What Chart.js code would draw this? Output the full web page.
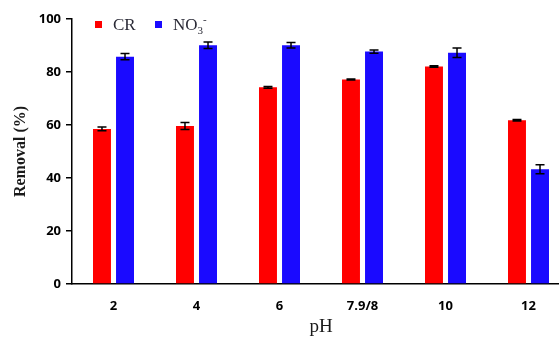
<!DOCTYPE html>
<html>
<head>
<meta charset="utf-8">
<script src="https://cdn.jsdelivr.net/npm/chart.js@4/dist/chart.umd.min.js"></script>
<style>
  html, body { margin: 0; padding: 0; background: #fff; overflow: hidden; }
  #wrap { width: 572px; height: 338px; }
</style>
</head>
<body>
<div id="wrap"><canvas id="c" width="572" height="338"></canvas></div>
<script>
// pH values tested
const phLabels = ['2', '4', '6', '7.9/8', '10', '12'];
// Removal (%) of Congo red and nitrate at each pH
const crRemoval  = [58.5, 59.6, 74.2, 77.2, 82.1, 61.8];
const no3Removal = [85.8, 90.1, 90.1, 87.7, 87.3, 43.3];
// Standard deviations
const crError  = [0.7, 1.3, 0.3, 0.2, 0.3, 0.3];
const no3Error = [1.2, 1.2, 1.0, 0.6, 1.8, 1.7];
// Y axis ticks
const yTicks = [0, 20, 40, 60, 80, 100];

const errorSets = [crError, no3Error];

// Draws +/- error bars on top of each bar
const errorBarPlugin = {
  id: 'errorBars',
  afterDatasetsDraw(chart) {
    const ctx = chart.ctx;
    const y = chart.scales.y;
    ctx.save();
    ctx.strokeStyle = '#000';
    ctx.lineWidth = 1.5;
    chart.data.datasets.forEach((ds, d) => {
      const meta = chart.getDatasetMeta(d);
      meta.data.forEach((bar, i) => {
        const v = ds.data[i], e = errorSets[d][i];
        const yt = y.getPixelForValue(v + e);
        const yb = y.getPixelForValue(v - e);
        const x = bar.x, cap = 4.5;
        ctx.beginPath();
        ctx.moveTo(x, yt); ctx.lineTo(x, yb);
        ctx.moveTo(x - cap, yt); ctx.lineTo(x + cap, yt);
        ctx.moveTo(x - cap, yb); ctx.lineTo(x + cap, yb);
        ctx.stroke();
      });
    });
    ctx.restore();
  }
};

// Legend with chemical-formula labels (subscript / superscript)
const formulaLegend = {
  id: 'formulaLegend',
  afterDraw(chart) {
    const ctx = chart.ctx;
    ctx.save();
    ctx.textBaseline = 'alphabetic';
    const items = [
      { color: chart.data.datasets[0].backgroundColor, x: 95, parts: [['CR', 0, 17]] },
      { color: chart.data.datasets[1].backgroundColor, x: 155, parts: [['NO', 0, 17], ['3', 4, 11], ['-', -7, 11]] }
    ];
    const baseY = 30;
    items.forEach(it => {
      ctx.fillStyle = it.color;
      ctx.fillRect(it.x, 21, 7, 7);
      let tx = it.x + 18;
      ctx.fillStyle = '#2a2a36';
      it.parts.forEach(([t, dy, size]) => {
        ctx.font = size + "px 'Liberation Serif', serif";
        ctx.fillText(t, tx, baseY + dy);
        tx += ctx.measureText(t).width;
      });
    });
    ctx.restore();
  }
};

new Chart(document.getElementById('c'), {
  type: 'bar',
  data: {
    labels: phLabels,
    datasets: [
      { label: 'CR', data: crRemoval, backgroundColor: '#ff0000', borderWidth: 0 },
      { label: 'NO3-', data: no3Removal, backgroundColor: '#1a0aff', borderWidth: 0 }
    ]
  },
  options: {
    responsive: false,
    animation: false,
    categoryPercentage: 0.555,
    barPercentage: 0.78,
    layout: { padding: { top: 19, right: 2, left: 0, bottom: 0 } },
    plugins: { legend: { display: false }, tooltip: { enabled: false } },
    scales: {
      x: {
        afterFit(s) { s.height = 54; },
        grid: { display: false, drawTicks: false, tickLength: 0 },
        border: { display: true, color: '#000', width: 1.5 },
        ticks: { color: '#000', padding: 14, font: { family: "'Open Sans', sans-serif", size: 13, weight: 'bold' } },
        title: { display: true, text: 'pH', color: '#1a1a1a', padding: { top: 0, bottom: 0 },
                 font: { family: "'Liberation Serif', serif", size: 19 } }
      },
      y: {
        min: 0, max: 100,
        afterFit(s) { s.width = 72; },
        afterBuildTicks(s) { s.ticks = yTicks.map(v => ({ value: v })); },
        grid: { drawOnChartArea: false, drawTicks: true, tickLength: 6, color: '#000', lineWidth: 1.5 },
        border: { display: true, color: '#000', width: 1.5 },
        ticks: { color: '#000', padding: 5, font: { family: "'Open Sans', sans-serif", size: 13, weight: 'bold' } },
        title: { display: true, text: 'Removal (%)', color: '#1a1a1a', padding: { top: 11, bottom: 0 },
                 font: { family: "'Liberation Serif', serif", size: 16, weight: 'bold' } }
      }
    }
  },
  plugins: [errorBarPlugin, formulaLegend]
});
</script>
</body>
</html>
